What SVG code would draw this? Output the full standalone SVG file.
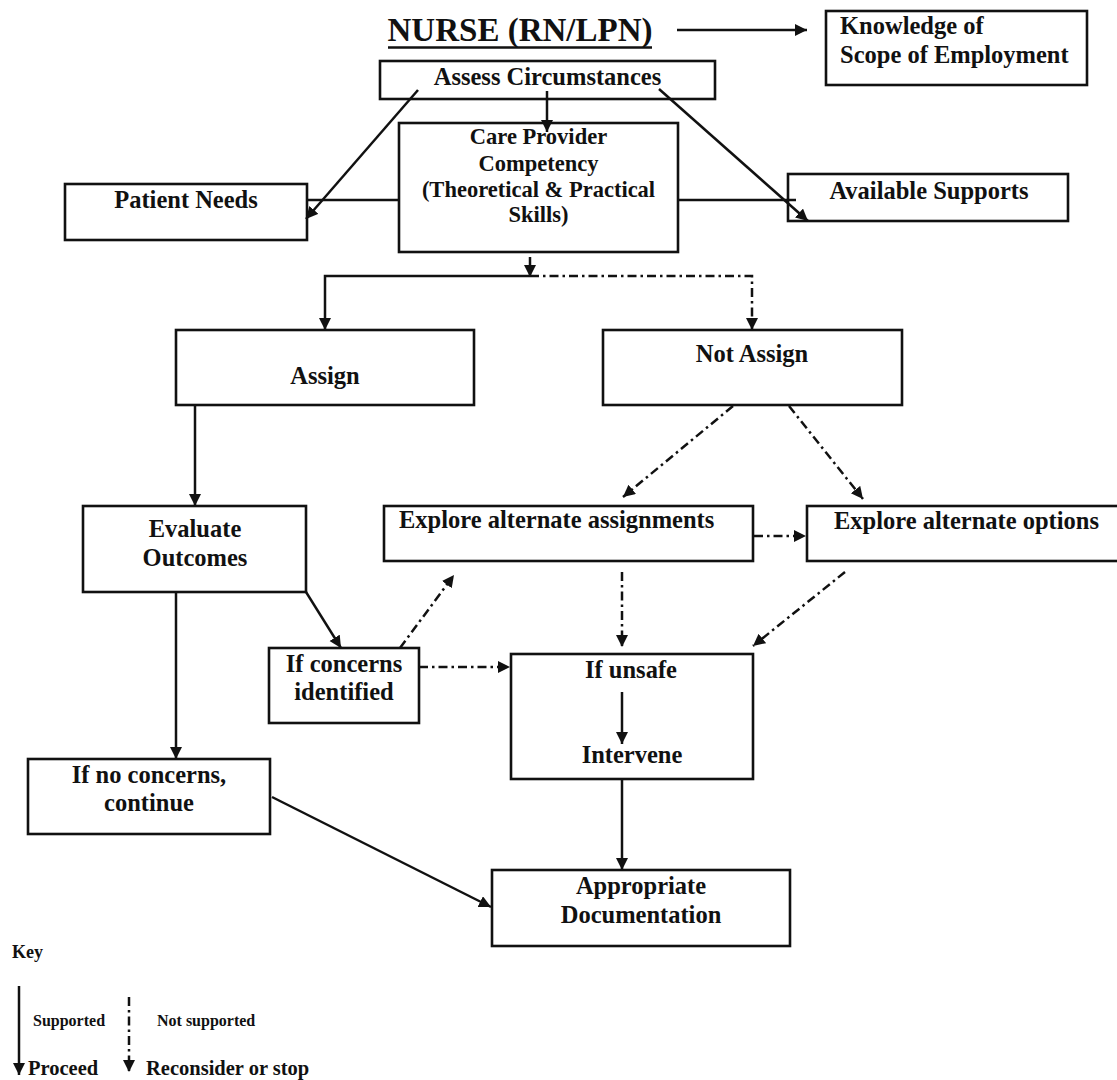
<svg xmlns="http://www.w3.org/2000/svg" width="1117" height="1080" viewBox="0 0 1117 1080">
<style>
.box{fill:#fff;stroke:#111;stroke-width:2.6}
.t{font-family:"Liberation Serif","Times New Roman",serif;font-weight:bold;fill:#111;font-size:24.5px}
.c{text-anchor:middle}
.s{fill:none;stroke:#111;stroke-width:2.5}
.d{fill:none;stroke:#111;stroke-width:2.5;stroke-dasharray:9 4 2.5 4}
</style>
<defs>
<marker id="ah" markerUnits="userSpaceOnUse" markerWidth="13" markerHeight="13" refX="12" refY="6" orient="auto">
<path d="M0,0 L12,6 L0,12 z" fill="#111"/>
</marker>
</defs>
<rect width="1117" height="1080" fill="#fff"/>

<g id="title">
<text class="t c" x="520" y="41" style="font-size:33px">NURSE (RN/LPN)</text>
<line x1="388" y1="47.5" x2="652" y2="47.5" stroke="#111" stroke-width="2.5"/>
</g>

<g id="knowledge">
<rect class="box" x="826" y="11" width="261" height="74"/>
<text class="t" x="840" y="34">Knowledge of</text>
<text class="t" x="840" y="63">Scope of Employment</text>
</g>

<g id="assess">
<rect class="box" x="380" y="61" width="335" height="38"/>
<text class="t c" x="547.5" y="85">Assess Circumstances</text>
</g>

<g id="care">
<rect class="box" x="399" y="123" width="279" height="129"/>
<text class="t c" x="538.5" y="144" style="font-size:22.5px">Care Provider</text>
<text class="t c" x="538.5" y="171" style="font-size:22.5px">Competency</text>
<text class="t c" x="538.5" y="197" style="font-size:22.5px">(Theoretical &amp; Practical</text>
<text class="t c" x="538.5" y="222" style="font-size:22.5px">Skills)</text>
</g>

<g id="patient">
<rect class="box" x="65" y="184" width="242" height="56"/>
<text class="t c" x="186" y="208">Patient Needs</text>
</g>

<g id="supports">
<rect class="box" x="788" y="174" width="280" height="47"/>
<text class="t c" x="929" y="199">Available Supports</text>
</g>

<g id="assign">
<rect class="box" x="176" y="330" width="298" height="75"/>
<text class="t c" x="325" y="384">Assign</text>
</g>

<g id="notassign">
<rect class="box" x="603" y="330" width="299" height="75"/>
<text class="t c" x="752" y="362">Not Assign</text>
</g>

<g id="evaluate">
<rect class="box" x="83" y="506" width="223" height="86"/>
<text class="t c" x="195" y="537">Evaluate</text>
<text class="t c" x="195" y="566">Outcomes</text>
</g>

<g id="altassign">
<rect class="box" x="384" y="506" width="369" height="55"/>
<text class="t" x="399" y="528">Explore alternate assignments</text>
</g>

<g id="altoptions">
<rect class="box" x="807" y="506" width="320" height="55"/>
<text class="t" x="834" y="529">Explore alternate options</text>
</g>

<g id="concerns">
<rect class="box" x="269" y="648" width="150" height="75"/>
<text class="t c" x="344" y="672">If concerns</text>
<text class="t c" x="344" y="700">identified</text>
</g>

<g id="unsafe">
<rect class="box" x="511" y="654" width="242" height="125"/>
<text class="t c" x="631" y="678">If unsafe</text>
<text class="t c" x="632" y="763">Intervene</text>
</g>

<g id="noconcerns">
<rect class="box" x="28" y="759" width="242" height="75"/>
<text class="t c" x="149" y="783">If no concerns,</text>
<text class="t c" x="149" y="811">continue</text>
</g>

<g id="documentation">
<rect class="box" x="492" y="870" width="298" height="76"/>
<text class="t c" x="641" y="894">Appropriate</text>
<text class="t c" x="641" y="923">Documentation</text>
</g>

<g id="connectors">
<line class="s" x1="677" y1="30" x2="807" y2="30" marker-end="url(#ah)"/>
<line class="s" x1="547" y1="91" x2="547" y2="132" marker-end="url(#ah)"/>
<line class="s" x1="418" y1="90" x2="306" y2="219" marker-end="url(#ah)"/>
<line class="s" x1="659" y1="89" x2="808" y2="221" marker-end="url(#ah)"/>
<line class="s" x1="399" y1="200" x2="307" y2="200"/>
<line class="s" x1="678" y1="200" x2="796" y2="200"/>
<line class="s" x1="530" y1="257" x2="530" y2="277" marker-end="url(#ah)"/>
<polyline class="s" points="530,276 325,276 325,330" marker-end="url(#ah)"/>
<line class="s" x1="195" y1="405" x2="195" y2="506" marker-end="url(#ah)"/>
<line class="s" x1="176" y1="592" x2="176" y2="759" marker-end="url(#ah)"/>
<line class="s" x1="306" y1="592" x2="341" y2="648" marker-end="url(#ah)"/>
<line class="s" x1="272" y1="797" x2="491" y2="907" marker-end="url(#ah)"/>
<line class="s" x1="622" y1="692" x2="622" y2="744" marker-end="url(#ah)"/>
<line class="s" x1="622" y1="779" x2="622" y2="870" marker-end="url(#ah)"/>

<polyline class="d" points="530,276 752,276 752,330" marker-end="url(#ah)"/>
<line class="d" x1="733" y1="406" x2="623" y2="497" marker-end="url(#ah)"/>
<line class="d" x1="789" y1="406" x2="863" y2="499" marker-end="url(#ah)"/>
<line class="d" x1="754" y1="536" x2="806" y2="536" marker-end="url(#ah)"/>
<line class="d" x1="622" y1="572" x2="622" y2="647" marker-end="url(#ah)"/>
<line class="d" x1="845" y1="572" x2="753" y2="646" marker-end="url(#ah)"/>
<line class="d" x1="400" y1="648" x2="454" y2="575" marker-end="url(#ah)"/>
<line class="d" x1="419" y1="667" x2="510" y2="667" marker-end="url(#ah)"/>
</g>

<g id="key">
<text class="t" x="12" y="958" style="font-size:18px">Key</text>
<line class="s" x1="19" y1="986" x2="19" y2="1075" marker-end="url(#ah)"/>
<text class="t" x="33" y="1026" style="font-size:16px">Supported</text>
<line class="d" x1="129" y1="997" x2="129" y2="1072" marker-end="url(#ah)"/>
<text class="t" x="157" y="1026" style="font-size:16px">Not supported</text>
<text class="t" x="28" y="1075" style="font-size:20.5px">Proceed</text>
<text class="t" x="146" y="1075" style="font-size:20.5px">Reconsider or stop</text>
</g>
</svg>
